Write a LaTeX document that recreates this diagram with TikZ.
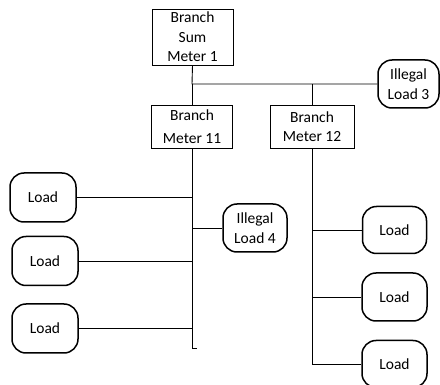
\documentclass[tikz,border=0pt]{standalone}
\usepackage{fontspec}
\setmainfont{Carlito}
\begin{document}
\begin{tikzpicture}[x=1pt,y=-1pt,
  meterbox/.style={draw,line width=0.9pt,align=center,inner sep=0pt,font=\fontsize{15.5}{19.5}\selectfont},
  loadbox/.style={draw,line width=1.5pt,rounded corners=14pt,align=center,inner sep=0pt,font=\fontsize{15.5}{19.5}\selectfont},
  wire/.style={line width=0.9pt}]
\useasboundingbox (0,0) rectangle (440,385);
\node[meterbox,minimum width=81pt,minimum height=56pt] (sum) at (192.5,37) {Branch\\Sum\\Meter 1};
\node[meterbox,minimum width=81pt,minimum height=43pt] (m11) at (192,126.5) {Branch\\[4pt]Meter 11};
\node[meterbox,minimum width=84pt,minimum height=43pt] (m12) at (312,126.5) {Branch\\Meter 12};
\node[loadbox,minimum width=61pt,minimum height=48pt] (il3) at (408.5,84) {Illegal\\Load 3};
\node[loadbox,minimum width=66pt,minimum height=49pt] (l1) at (43,197.5) {Load};
\node[loadbox,minimum width=66pt,minimum height=49pt] (l2) at (45,261) {Load};
\node[loadbox,minimum width=66pt,minimum height=49pt] (l3) at (45,328.5) {Load};
\node[loadbox,minimum width=64pt,minimum height=48pt] (il4) at (255,228) {Illegal\\Load 4};
\node[loadbox,minimum width=64pt,minimum height=47pt] (r1) at (394.5,230) {Load};
\node[loadbox,minimum width=65pt,minimum height=48pt] (r2) at (394.5,297) {Load};
\node[loadbox,minimum width=65pt,minimum height=47pt] (r3) at (394.5,364) {Load};
\coordinate (bus) at (192,84);
\coordinate (t11) at (192,348);
\coordinate (t11e) at (197,348);
\draw[wire] (sum.south) -- (bus) -- (il3.west);
\draw[wire] (bus) -- (m11.north);
\draw[wire] (m12.north) -- (m12.north |- bus);
\draw[wire] (m11.south) -- (t11) -- (t11e);
\draw[wire] (l1.east) -- (l1.east -| m11.south);
\draw[wire] (l2.east) -- (l2.east -| m11.south);
\draw[wire] (l3.east) -- (l3.east -| m11.south);
\draw[wire] (il4.west) -- (il4.west -| m11.south);
\draw[wire] (m12.south) -- (m12.south |- r3.west) -- (r3.west);
\draw[wire] (r1.west) -- (r1.west -| m12.south);
\draw[wire] (r2.west) -- (r2.west -| m12.south);
\end{tikzpicture}
\end{document}
